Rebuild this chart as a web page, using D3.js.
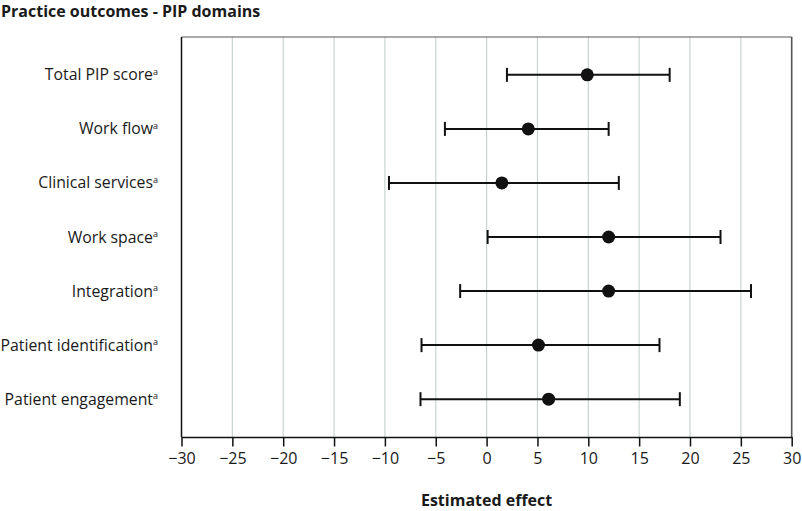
<!DOCTYPE html>
<html>
<head>
<meta charset="utf-8">
<script src="https://cdn.jsdelivr.net/npm/d3@7"></script>
<style>
html, body { margin: 0; padding: 0; background: #fff; }
svg { display: block; }
text { font-family: "Open Sans", "Noto Sans", sans-serif; fill: #1a1a1a; }
</style>
</head>
<body>
<svg id="chart" width="802" height="511"></svg>
<script>
const categories = ["Total PIP score", "Work flow", "Clinical services", "Work space", "Integration", "Patient identification", "Patient engagement"];
const estimates = [9.9, 4.1, 1.5, 12.0, 12.0, 5.1, 6.1];
const lowerCI = [2.0, -4.1, -9.6, 0.1, -2.6, -6.4, -6.5];
const upperCI = [18.0, 12.0, 13.0, 23.0, 26.0, 17.0, 19.0];
const xTicks = [-30, -25, -20, -15, -10, -5, 0, 5, 10, 15, 20, 25, 30];
const title = "Practice outcomes - PIP domains";
const xTitle = "Estimated effect";

const rows = categories.map((c, i) => ({ cat: c, est: estimates[i], lo: lowerCI[i], hi: upperCI[i] }));

const svg = d3.select("#chart");
const margin = { left: 181.5, right: 10.3, top: 37, bottom: 74 };
const W = 802, H = 511;
const x = d3.scaleLinear().domain([-30, 30]).range([margin.left, W - margin.right]);
const y = d3.scalePoint().domain(categories).range([margin.top, H - margin.bottom]).padding(0.7);

// title
svg.append("text").attr("x", 1).attr("y", 17)
  .style("font-weight", "700").style("font-size", "16px").text(title);

// grid lines
svg.append("g").selectAll("line").data(xTicks.slice(1, -1)).join("line")
  .attr("x1", d => x(d)).attr("x2", d => x(d))
  .attr("y1", margin.top).attr("y2", H - margin.bottom)
  .attr("stroke", "#c9d3d3").attr("stroke-width", 1.2);

// frame: top and right
svg.append("line").attr("x1", x(-30)).attr("x2", x(30)).attr("y1", margin.top).attr("y2", margin.top)
  .attr("stroke", "#555").attr("stroke-width", 1);
svg.append("line").attr("x1", x(30)).attr("x2", x(30)).attr("y1", margin.top).attr("y2", H - margin.bottom)
  .attr("stroke", "#555").attr("stroke-width", 1.6);

// left axis line
svg.append("line").attr("x1", x(-30)).attr("x2", x(-30)).attr("y1", margin.top).attr("y2", H - margin.bottom)
  .attr("stroke", "#111").attr("stroke-width", 1.5);

// bottom axis
const xAxis = d3.axisBottom(x).tickValues(xTicks).tickSize(9.5).tickPadding(6).tickSizeOuter(0);
const gx = svg.append("g").attr("transform", `translate(0,${H - margin.bottom})`).call(xAxis);
gx.select(".domain").attr("stroke", "#111").attr("stroke-width", 1.5);
gx.selectAll(".tick line").attr("stroke", "#111").attr("stroke-width", 1.5);
gx.selectAll(".tick text").style("font-size", "16px").style("font-family", "\"Open Sans\", sans-serif").attr("fill", "#1a1a1a");

// x title
svg.append("text").attr("x", (x(-30) + x(30)) / 2).attr("y", 506)
  .attr("text-anchor", "middle").style("font-weight", "700").style("font-size", "16px").text(xTitle);

// category labels with superscript a
const labels = svg.append("g").selectAll("text").data(rows).join("text")
  .attr("x", 158).attr("y", d => y(d.cat) + 5.5)
  .attr("text-anchor", "end").style("font-size", "15.8px");
labels.append("tspan").text(d => d.cat);
labels.append("tspan").attr("dy", -5.5).style("font-size", "9px").text("a");

// error bars
const g = svg.append("g");
g.selectAll("line.ci").data(rows).join("line").attr("class", "ci")
  .attr("x1", d => x(d.lo)).attr("x2", d => x(d.hi))
  .attr("y1", d => y(d.cat)).attr("y2", d => y(d.cat))
  .attr("stroke", "#111").attr("stroke-width", 2);
g.selectAll("line.lo").data(rows).join("line").attr("class", "lo")
  .attr("x1", d => x(d.lo)).attr("x2", d => x(d.lo))
  .attr("y1", d => y(d.cat) - 7).attr("y2", d => y(d.cat) + 7)
  .attr("stroke", "#111").attr("stroke-width", 2);
g.selectAll("line.hi").data(rows).join("line").attr("class", "hi")
  .attr("x1", d => x(d.hi)).attr("x2", d => x(d.hi))
  .attr("y1", d => y(d.cat) - 7).attr("y2", d => y(d.cat) + 7)
  .attr("stroke", "#111").attr("stroke-width", 2);
g.selectAll("circle").data(rows).join("circle")
  .attr("cx", d => x(d.est)).attr("cy", d => y(d.cat)).attr("r", 6.5)
  .attr("fill", "#111");
</script>
</body>
</html>
